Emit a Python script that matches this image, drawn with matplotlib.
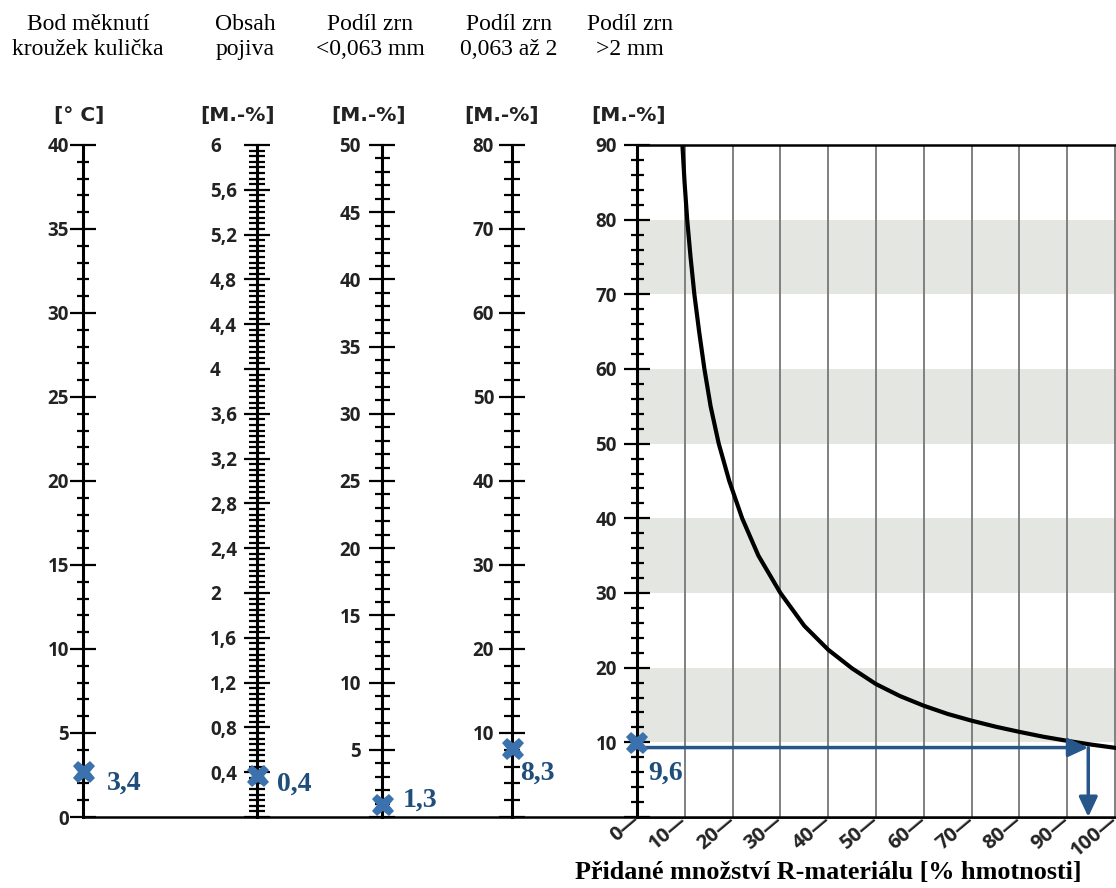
import matplotlib.pyplot as plt
from matplotlib.ticker import MultipleLocator, FuncFormatter

# values
scale_titles = ['Bod měknutí\nkroužek kulička', 'Obsah\npojiva', 'Podíl zrn\n<0,063 mm',
                'Podíl zrn\n0,063 až 2', 'Podíl zrn\n>2 mm']
scale_units = ['[° C]', '[M.-%]', '[M.-%]', '[M.-%]', '[M.-%]']
scale_max = [40, 6, 50, 80, 90]
scale_major = [5, 0.4, 5, 10, 10]
scale_minor = [1, 0.05, 1, 2, 2]

marker_values = [2.7, 0.37, 0.9, 8.1, 9.9]
marker_labels = ['3,4', '0,4', '1,3', '8,3', '9,6']

x_ticks = [0, 10, 20, 30, 40, 50, 60, 70, 80, 90, 100]
bands = [(10, 20), (30, 40), (50, 60), (70, 80)]

curve_x = [9.5, 9.95, 10.5, 11.2, 12.0, 13.0, 14.1, 15.4, 17.1, 19.3, 22.0, 25.4, 30,
           35, 40, 45, 50, 55, 60, 65, 70, 75, 80, 85, 90, 95, 100.2]
curve_y = [90, 85, 80, 75, 70, 65, 60, 55, 50, 45, 40, 35, 30,
           25.6, 22.4, 19.9, 17.8, 16.2, 14.9, 13.8, 12.9, 12.1, 11.4, 10.75, 10.2, 9.7, 9.25]

arrow_y = 9.3
arrow_x = 94.4

# layout (pixels of the 1116x888 picture)
W, H = 1116, 888
PT = 0.72
y_bot, y_top = 817, 145
scale_px = [83, 257, 382, 512, 637]
minor_len = [12, 16, 15, 16, 13]
label_pad = [1, 34, 8, 5, 7]
label_ha = ['right', 'left', 'right', 'right', 'right']
title_px = [88, 245, 370, 509, 630]
unit_px = [79, 238, 369, 502, 629]
marker_off = [(23, 12), (19, 9), (20, -5), (7, 24), (11, 30)]

blue_mark = '#3b72ad'
blue_text = '#1f4e7a'
blue_arrow = '#26568a'
ink = '#222222'


def fx(px):
    return px / W


def fy(py):
    return 1 - py / H


fig = plt.figure(figsize=(W / 100, H / 100), dpi=100)
h = fy(y_top) - fy(y_bot)

base = fig.add_axes([fx(scale_px[0]), fy(y_bot), 1 - fx(scale_px[0]), h])
for s in ['left', 'right', 'top']:
    base.spines[s].set_visible(False)
base.spines['bottom'].set_linewidth(1.8)
base.set_xticks([])
base.set_yticks([])
base.patch.set_visible(False)

axes = []
for i in range(4):
    a = fig.add_axes([fx(scale_px[i]), fy(y_bot), 0.002, h])
    for s in ['right', 'top', 'bottom']:
        a.spines[s].set_visible(False)
    a.set_xticks([])
    a.patch.set_visible(False)
    axes.append(a)

ax = fig.add_axes([fx(scale_px[4]), fy(y_bot), 1 - fx(scale_px[4]), h])
ax.set_xlim(0, 100.2)
ax.spines['right'].set_visible(False)
ax.spines['top'].set_linewidth(1.8)
ax.spines['bottom'].set_linewidth(1.8)
axes.append(ax)

for lo, hi in bands:
    ax.axhspan(lo, hi, color='#e4e6e1', lw=0, zorder=0)
for v in x_ticks[1:]:
    ax.axvline(v, color='#808080', lw=1.4, zorder=1)
ax.plot(curve_x, curve_y, color='black', lw=3, zorder=3)

ax.set_xticks(x_ticks)
ax.set_xticklabels([f'{v}\u2014' for v in x_ticks], rotation=40, ha='right', va='center',
                   rotation_mode='anchor', fontsize=14.5, fontweight='bold',
                   family='Open Sans', color=ink)
ax.tick_params(axis='x', length=0, pad=1)


def tick_text(i):
    def f(v, pos):
        if v == 0 and i > 0:
            return ''
        return f'{round(v, 2):g}'.replace('.', ',')
    return f


for i, a in enumerate(axes):
    a.set_ylim(0, scale_max[i])
    a.yaxis.set_major_locator(MultipleLocator(scale_major[i]))
    a.yaxis.set_minor_locator(MultipleLocator(scale_minor[i]))
    a.yaxis.set_major_formatter(FuncFormatter(tick_text(i)))
    a.tick_params(axis='y', which='major', direction='inout', length=26 * PT, width=1.6,
                  pad=label_pad[i] * PT, labelsize=13.5, labelcolor=ink)
    a.tick_params(axis='y', which='minor', direction='inout', length=minor_len[i] * PT,
                  width=1.6)
    a.spines['left'].set_linewidth(2.2)
    plt.setp(a.get_yticklabels(), fontweight='bold', family='Open Sans', ha=label_ha[i])

    a.plot(0, marker_values[i], marker='X', ms=16, color=blue_mark, mew=0,
           clip_on=False, zorder=6)
    dx, dy = marker_off[i]
    a.annotate(marker_labels[i], xy=(0, marker_values[i]), xytext=(dx * PT, -dy * PT),
               textcoords='offset points', ha='left', va='center', fontsize=20,
               fontweight='bold', family='Liberation Serif', color=blue_text,
               annotation_clip=False, zorder=6)

    fig.text(fx(title_px[i]), fy(37), scale_titles[i], ha='center', va='center',
             fontsize=17, family='Liberation Serif', linespacing=1.27)
    fig.text(fx(unit_px[i]), fy(115), scale_units[i], ha='center', va='center',
             fontsize=14.5, fontweight='bold', family='DejaVu Sans', color=ink)

ax.annotate('', xy=(arrow_x, arrow_y), xytext=(0, arrow_y), zorder=5,
            arrowprops=dict(arrowstyle='-|>,head_length=0.6,head_width=0.28',
                            color=blue_arrow, lw=2.5, shrinkA=0, shrinkB=0,
                            mutation_scale=20))
ax.annotate('', xy=(arrow_x, 0), xytext=(arrow_x, arrow_y), zorder=5,
            arrowprops=dict(arrowstyle='-|>,head_length=0.6,head_width=0.28',
                            color=blue_arrow, lw=2.5, shrinkA=0, shrinkB=0,
                            mutation_scale=20))

fig.text(fx(828), fy(872), 'Přidané množství R-materiálu [% hmotnosti]', ha='center',
         va='center', fontsize=18.8, fontweight='bold', family='Liberation Serif')

fig.savefig('out.png', dpi=100)
